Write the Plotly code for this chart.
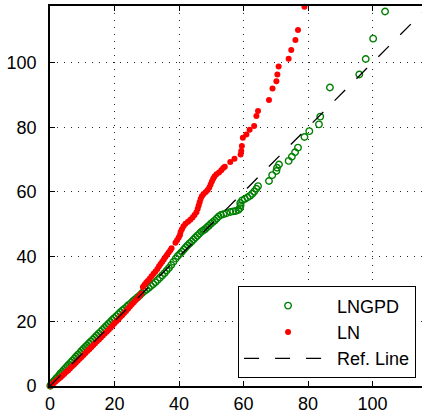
import plotly.graph_objects as go

# Q-Q pairs for the LNGPD fit (open green circles)
lngpd_x = [0.1, 0.4, 0.7, 1.1, 1.5, 1.9, 2.4, 2.9, 3.3, 3.8, 4.3, 4.9, 5.4, 5.9, 6.5, 7.0, 7.6, 8.1, 8.7, 9.3,
           9.8, 10.4, 11.0, 11.5, 12.1, 12.7, 13.3, 13.9, 14.5, 15.1, 15.7, 16.3, 16.9, 17.5, 18.1, 18.7, 19.3, 19.9,
           20.6, 21.2, 21.8, 22.5, 23.1, 23.8, 24.4, 25.1, 25.7, 26.4, 27.1, 27.8, 28.5, 29.2, 29.9, 30.6, 31.3,
           32.0, 32.7, 33.4, 34.1, 34.8, 35.5, 36.2, 36.9, 37.6, 38.3, 39.0, 39.6, 40.3, 40.9, 41.5, 42.1, 42.7,
           43.3, 43.9, 44.5, 45.1, 45.7, 46.3, 46.9, 47.5, 48.1, 48.7, 49.3, 49.9, 50.5, 51.1, 51.7, 52.3, 53.0,
           53.8, 54.7, 55.9, 56.8, 57.6, 58.4, 58.9, 59.1, 59.0, 59.6, 60.4, 61.2, 62.0, 62.7, 63.3, 64.0, 64.5,
           67.9, 68.9, 70.2, 70.4, 71.0, 74.0, 75.0, 76.0, 76.9, 78.9, 80.4, 83.4, 83.8, 86.8, 95.9, 97.9, 100.2,
           103.9]
lngpd_y = [0.1, 0.5, 0.9, 1.4, 1.8, 2.3, 2.8, 3.4, 3.9, 4.4, 5.0, 5.6, 6.2, 6.7, 7.3, 7.9, 8.5, 9.1, 9.7, 10.3,
           10.9, 11.5, 12.1, 12.6, 13.2, 13.8, 14.4, 15.0, 15.6, 16.2, 16.8, 17.4, 18.0, 18.6, 19.2, 19.8, 20.4, 21.0,
           21.6, 22.2, 22.8, 23.4, 23.9, 24.5, 25.1, 25.6, 26.2, 26.8, 27.4, 28.0, 28.7, 29.3, 29.8, 30.3, 30.9,
           31.5, 32.1, 32.8, 33.5, 34.2, 34.9, 35.7, 36.5, 37.4, 38.4, 39.4, 40.2, 40.9, 41.5, 42.2, 42.9, 43.5,
           44.1, 44.7, 45.3, 45.9, 46.5, 47.1, 47.7, 48.1, 48.5, 49.1, 49.6, 50.2, 50.7, 51.2, 51.8, 52.4, 52.9,
           53.1, 53.4, 53.8, 54.0, 54.1, 54.4, 55.0, 55.8, 56.6, 57.4, 57.8, 58.3, 58.8, 59.4, 60.1, 61.0, 61.8,
           63.4, 65.2, 66.5, 67.5, 68.5, 69.6, 70.9, 72.3, 73.7, 77.0, 78.8, 80.9, 83.3, 92.3, 96.3, 101.1, 107.4,
           115.8]

# Q-Q pairs for the LN fit (red dots)
ln_x = [0.1, 0.5, 0.9, 1.3, 1.8, 2.3, 2.8, 3.3, 3.8, 4.4, 5.0, 5.6, 6.2, 6.8, 7.4, 8.0, 8.6, 9.2, 9.8, 10.4,
        11.0, 11.6, 12.2, 12.8, 13.4, 14.0, 14.6, 15.2, 15.8, 16.4, 17.0, 17.6, 18.2, 18.8, 19.4, 20.0, 20.6, 21.2,
        21.8, 22.4, 23.0, 23.6, 24.2, 24.8, 25.4, 26.0, 26.6, 27.2, 27.8, 28.3, 28.8, 29.3, 29.8, 30.3, 30.9,
        31.5, 32.1, 32.7, 33.3, 33.8, 34.3, 34.8, 35.3, 35.8, 36.3, 36.8, 37.3, 37.7, 38.9, 39.4, 39.9, 40.3,
        40.5, 40.9, 41.4, 42.0, 42.8, 43.5, 44.2, 44.8, 45.4, 45.8, 46.1, 46.4, 46.7, 47.1, 47.6, 48.3, 48.9,
        49.4, 49.8, 50.2, 50.6, 51.0, 51.6, 52.4, 53.1, 53.7, 54.2, 55.9, 57.2, 59.1, 59.3, 59.5, 59.8, 60.9,
        61.9, 63.3, 64.0, 64.5, 67.9, 69.0, 70.2, 70.5, 70.9, 74.0, 74.8, 76.1, 76.9, 78.9]
ln_y = [0.1, 0.4, 0.7, 1.1, 1.5, 1.9, 2.3, 2.7, 3.2, 3.7, 4.3, 4.8, 5.4, 6.0, 6.6, 7.2, 7.8, 8.4, 9.0, 9.6,
        10.2, 10.8, 11.4, 12.0, 12.6, 13.2, 13.8, 14.4, 15.0, 15.6, 16.2, 16.8, 17.4, 18.0, 18.7, 19.4, 20.0, 20.6,
        21.3, 21.9, 22.6, 23.2, 23.9, 24.6, 25.3, 25.9, 26.6, 27.2, 27.9, 28.6, 30.6, 31.3, 31.9, 32.5, 33.2,
        33.9, 34.7, 35.4, 36.2, 37.0, 37.7, 38.4, 39.1, 39.9, 40.6, 41.3, 42.0, 42.6, 44.3, 45.1, 45.9, 46.7,
        47.6, 48.5, 49.4, 50.2, 50.8, 51.4, 52.1, 52.9, 53.7, 54.8, 55.8, 56.8, 57.8, 58.7, 59.4, 60.0, 60.6,
        61.4, 62.3, 63.2, 64.1, 64.8, 65.5, 66.0, 66.7, 67.4, 67.8, 69.3, 70.3, 71.6, 72.7, 74.2, 76.8, 77.8,
        79.2, 80.4, 83.5, 85.0, 88.4, 92.0, 94.2, 96.3, 98.8, 101.2, 103.9, 107.0, 110.1, 117.3]

# 45-degree reference line end points
ref_x = [0, 120]
ref_y = [0, 120]

x_ticks = [0, 20, 40, 60, 80, 100]
y_ticks = [0, 20, 40, 60, 80, 100]

FONT = "Arial, Liberation Sans, sans-serif"

fig = go.Figure()
fig.add_trace(go.Scatter(
    x=lngpd_x, y=lngpd_y, mode="markers", name="LNGPD",
    marker=dict(symbol="circle-open", size=6.5, color="rgb(0,128,0)", line=dict(width=1.4, color="rgb(0,128,0)")),
    cliponaxis=False,
))
fig.add_trace(go.Scatter(
    x=ln_x, y=ln_y, mode="markers", name="LN",
    marker=dict(symbol="circle", size=6, color="rgb(255,0,0)", line=dict(width=0)),
    cliponaxis=False,
))
fig.add_trace(go.Scatter(
    x=ref_x, y=ref_y, mode="lines", name="Ref. Line",
    line=dict(color="black", width=1.3, dash="15px,16px"),
))

axis_common = dict(
    showline=True, linecolor="black", linewidth=1.8,
    ticks="inside", ticklen=5, tickcolor="black", tickwidth=1,
    showgrid=True, gridcolor="rgba(0,0,0,0.85)", gridwidth=1, griddash="1px,6px",
    zeroline=False,
    tickfont=dict(family=FONT, size=18, color="black"),
)

fig.update_xaxes(range=[0, 115.35], tickvals=x_ticks, mirror="ticks", **axis_common)
fig.update_yaxes(range=[0, 117.5], tickvals=y_ticks, mirror=False, ticklabelstandoff=8, **axis_common)

fig.update_layout(
    width=422, height=417,
    margin=dict(l=50, r=0, t=6, b=31),
    paper_bgcolor="white", plot_bgcolor="white",
    showlegend=True,
    legend=dict(
        x=0.984, y=0.02, xanchor="right", yanchor="bottom",
        bgcolor="white", bordercolor="black", borderwidth=1,
        font=dict(family=FONT, size=18, color="black"),
        itemwidth=88, tracegroupgap=0,
    ),
)

fig.write_html("out.html")
